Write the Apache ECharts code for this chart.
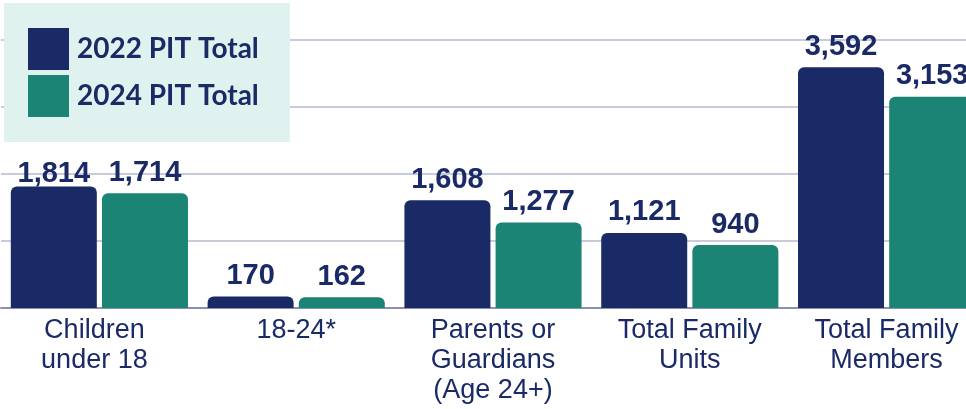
<!DOCTYPE html>
<html>
<head>
<meta charset="utf-8">
<title>PIT Totals</title>
<script src="https://cdn.jsdelivr.net/npm/echarts@6/dist/echarts.min.js"></script>
<style>
  html, body { margin: 0; padding: 0; background: #fff; }
  #chart { width: 966px; height: 409px; }
</style>
</head>
<body>
<div id="chart"></div>
<script>
// chart data
const categories = ['Children\nunder 18', '18-24*', 'Parents or\nGuardians\n(Age 24+)', 'Total Family\nUnits', 'Total Family\nMembers']
const pit2022 = [1814, 170, 1608, 1121, 3592]
const pit2024 = [1714, 162, 1277, 940, 3153]
const seriesNames = ['2022 PIT Total', '2024 PIT Total']

const NAVY = '#1a2a66'
const TEAL = '#1c8474'

const chart = echarts.init(document.getElementById('chart'))

// first 2022 label sits level with its neighbour in the original
const makeSeries = (name, data, color, firstLabelDrop) => ({
  name: name,
  type: 'bar',
  data: data.map((v, i) => (i === 0 && firstLabelDrop) ? { value: v, label: { offset: [0, firstLabelDrop] } } : v),
  barWidth: 86,
  barGap: '6%',
  itemStyle: { color: color, borderRadius: [6, 6, 0, 0] },
  label: {
    show: true,
    position: 'top',
    distance: 6,
    color: NAVY,
    fontFamily: '"Liberation Sans", Arial, sans-serif',
    fontWeight: 'bold',
    fontSize: 29,
    formatter: p => p.value.toLocaleString('en-US')
  }
})

chart.setOption({
  animation: false,
  grid: { left: 1, top: 40, width: 984, height: 268, outerBoundsMode: 'none', containLabel: false },
  graphic: [{
    type: 'rect',
    left: 4,
    top: 3,
    z: 3,
    shape: { width: 286, height: 139 },
    style: { fill: '#dff2ef' }
  }],
  legend: {
    orient: 'vertical',
    left: 28,
    top: 28,
    z: 5,
    itemWidth: 41,
    itemHeight: 42,
    itemGap: 5,
    icon: 'rect',
    padding: 0,
    textStyle: {
      color: NAVY,
      fontFamily: 'Lato, sans-serif',
      fontWeight: 'bold',
      fontSize: 28,
      padding: [0, 0, 0, 3]
    },
    data: seriesNames
  },
  xAxis: {
    type: 'category',
    data: categories.map((c, i) => i === 0 ? { value: c, textStyle: { padding: [0, 10, 0, 0] } } : c),
    axisLine: { lineStyle: { color: '#8a90b2', width: 2 } },
    axisTick: { show: false },
    axisLabel: {
      color: NAVY,
      fontFamily: '"Liberation Sans", Arial, sans-serif',
      fontSize: 27,
      lineHeight: 30,
      margin: 8,
      interval: 0
    }
  },
  yAxis: {
    type: 'value',
    min: 0,
    max: 4000,
    interval: 1000,
    axisLabel: { show: false },
    axisLine: { show: false },
    axisTick: { show: false },
    splitLine: { lineStyle: { color: '#c9cbdd', width: 2 } }
  },
  series: [
    makeSeries(seriesNames[0], pit2022, NAVY, 8),
    makeSeries(seriesNames[1], pit2024, TEAL, 0)
  ]
})
</script>
</body>
</html>
